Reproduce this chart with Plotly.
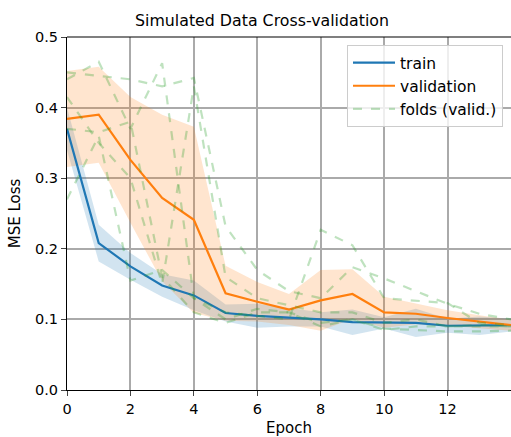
import plotly.graph_objects as go

epochs = list(range(15))

train_mean = [0.370, 0.208, 0.175, 0.148, 0.134, 0.109, 0.105, 0.103, 0.100, 0.096, 0.095, 0.095, 0.091, 0.091, 0.092]
train_std = [0.030, 0.026, 0.019, 0.016, 0.021, 0.012, 0.017, 0.013, 0.010, 0.018, 0.008, 0.020, 0.010, 0.013, 0.009]

valid_mean = [0.384, 0.390, 0.326, 0.272, 0.241, 0.137, 0.125, 0.114, 0.127, 0.136, 0.110, 0.108, 0.102, 0.097, 0.092]
valid_std = [0.068, 0.068, 0.089, 0.118, 0.132, 0.039, 0.028, 0.022, 0.043, 0.035, 0.022, 0.015, 0.011, 0.009, 0.008]

fold_1 = [0.450, 0.445, 0.440, 0.430, 0.442, 0.232, 0.170, 0.140, 0.130, 0.174, 0.158, 0.140, 0.122, 0.108, 0.100]
fold_2 = [0.440, 0.465, 0.370, 0.463, 0.130, 0.110, 0.105, 0.100, 0.227, 0.205, 0.130, 0.127, 0.123, 0.095, 0.092]
fold_3 = [0.415, 0.350, 0.300, 0.150, 0.430, 0.160, 0.130, 0.120, 0.110, 0.110, 0.095, 0.100, 0.090, 0.090, 0.090]
fold_4 = [0.370, 0.365, 0.380, 0.160, 0.110, 0.095, 0.110, 0.110, 0.090, 0.100, 0.087, 0.085, 0.083, 0.083, 0.084]
fold_5 = [0.270, 0.360, 0.155, 0.170, 0.130, 0.100, 0.115, 0.110, 0.095, 0.100, 0.085, 0.090, 0.090, 0.092, 0.090]
folds = [fold_1, fold_2, fold_3, fold_4, fold_5]

x_ticks = [0, 2, 4, 6, 8, 10, 12]
y_ticks = [0.0, 0.1, 0.2, 0.3, 0.4, 0.5]

BLUE = "#1f77b4"
ORANGE = "#ff7f0e"
FONT = "DejaVu Sans"

fig = go.Figure()

def band(mean, std, color):
    up = [m + s for m, s in zip(mean, std)]
    lo = [m - s for m, s in zip(mean, std)]
    fig.add_trace(go.Scatter(x=epochs, y=up, mode="lines", line=dict(width=0),
                             showlegend=False, hoverinfo="skip"))
    fig.add_trace(go.Scatter(x=epochs, y=lo, mode="lines", line=dict(width=0),
                             fill="tonexty", fillcolor=color,
                             showlegend=False, hoverinfo="skip"))

band(train_mean, train_std, "rgba(31,119,180,0.2)")
band(valid_mean, valid_std, "rgba(255,127,14,0.2)")

fig.add_trace(go.Scatter(x=epochs, y=train_mean, mode="lines", name="train",
                         line=dict(color=BLUE, width=2.2), legendrank=1))
fig.add_trace(go.Scatter(x=epochs, y=valid_mean, mode="lines", name="validation",
                         line=dict(color=ORANGE, width=2.2), legendrank=2))
for i, f in enumerate(folds):
    fig.add_trace(go.Scatter(x=epochs, y=f, mode="lines", name="folds (valid.)",
                             line=dict(color="rgba(44,160,44,0.3)", width=2.2, dash="dash"),
                             showlegend=(i == 0), legendgroup="folds", legendrank=3))

fig.update_layout(
    width=511, height=437,
    margin=dict(l=67, r=0, t=37, b=47),
    plot_bgcolor="white", paper_bgcolor="white",
    font=dict(family=FONT, size=15, color="black"),
    title=dict(text="Simulated Data Cross-validation", x=262 / 511, xanchor="center",
               y=1 - 20 / 437, yanchor="middle", font=dict(size=15.8, color="black")),
    showlegend=True,
    legend=dict(x=(347 - 67) / 444, y=(390 - 45) / 353, xanchor="left", yanchor="top",
                bgcolor="rgba(255,255,255,0.8)", bordercolor="#cccccc", borderwidth=1,
                font=dict(size=15.5), tracegroupgap=0, itemwidth=42),
    xaxis=dict(range=[0, 14], tickvals=x_ticks, ticks="outside", ticklen=5, tickwidth=1,
               showline=True, linecolor="black", linewidth=1.2,
               showgrid=True, gridcolor="#aaaaaa", gridwidth=1.8, zeroline=False,
               tickfont=dict(size=14.5),
               title=dict(text="Epoch", font=dict(size=15), standoff=9)),
    yaxis=dict(range=[0, 0.5], tickvals=y_ticks, tickformat=".1f", ticks="outside",
               ticklen=5, tickwidth=1, showline=True, linecolor="black", linewidth=1.2,
               showgrid=True, gridcolor="#aaaaaa", gridwidth=1.8, zeroline=False,
               tickfont=dict(size=14.5),
               title=dict(text="MSE Loss", font=dict(size=15), standoff=10)),
    shapes=[dict(type="line", xref="paper", yref="paper", x0=0, x1=1, y0=1, y1=1,
                 line=dict(color="black", width=1.2))],
)

fig.write_html("out.html")
